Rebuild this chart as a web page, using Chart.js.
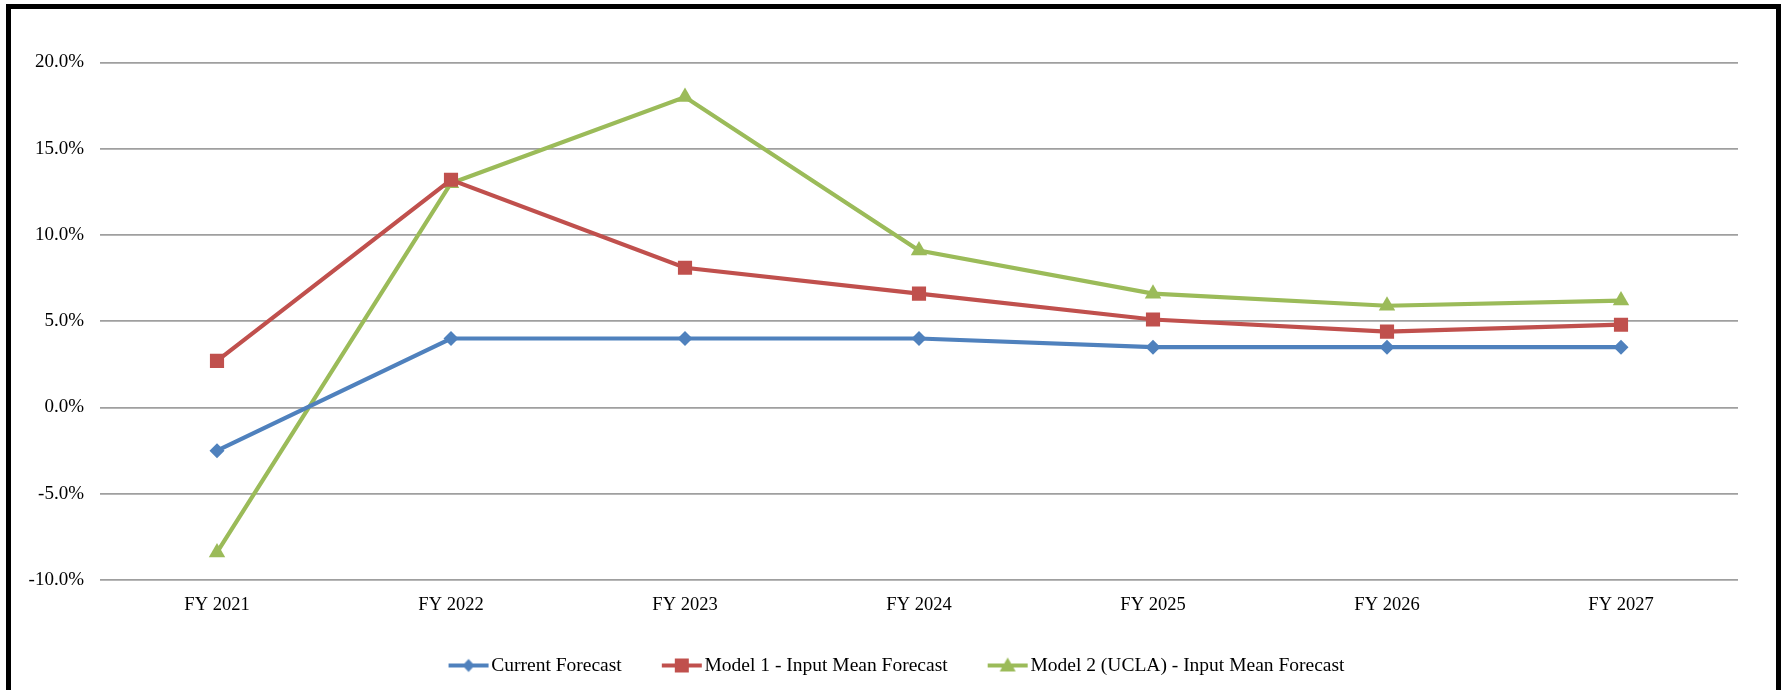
<!DOCTYPE html>
<html>
<head>
<meta charset="utf-8">
<script src="https://cdn.jsdelivr.net/npm/chart.js@4/dist/chart.umd.min.js"></script>
<style>
  html, body { margin: 0; padding: 0; background: #fff; }
  #wrap { position: relative; width: 1789px; height: 690px; overflow: hidden; }
  #frame {
    position: absolute; left: 6px; top: 4px; width: 1765px; height: 720px;
    border: 5px solid #000; border-bottom: none; pointer-events: none;
  }
</style>
</head>
<body>
<div id="wrap">
  <canvas id="forecastChart" width="1789" height="690"></canvas>
  <div id="frame"></div>
</div>
<script>
var labels = ["FY 2021", "FY 2022", "FY 2023", "FY 2024", "FY 2025", "FY 2026", "FY 2027"];
var currentForecast = [-2.5, 4.0, 4.0, 4.0, 3.5, 3.5, 3.5];
var model1Forecast = [2.7, 13.2, 8.1, 6.6, 5.1, 4.4, 4.8];
var model2Forecast = [-8.4, 13.0, 18.0, 9.1, 6.6, 5.9, 6.2];
var seriesNames = ["Current Forecast", "Model 1 - Input Mean Forecast", "Model 2 (UCLA) - Input Mean Forecast"];

var blue = "#4F81BD";
var red = "#C0504D";
var green = "#9BBB59";
var fontFamily = "'Liberation Serif', 'Times New Roman', serif";

// line+marker swatch for the legend; the line runs up to the label text
function swatch(color, shape) {
  var c = document.createElement("canvas");
  c.width = 60;
  c.height = 18;
  var g = c.getContext("2d");
  g.strokeStyle = color;
  g.fillStyle = color;
  g.lineWidth = 4;
  g.beginPath();
  g.moveTo(17, 9);
  g.lineTo(57, 9);
  g.stroke();
  g.beginPath();
  if (shape === "diamond") {
    g.moveTo(37, 2.5); g.lineTo(43, 9); g.lineTo(37, 15.5); g.lineTo(31, 9);
  } else if (shape === "square") {
    g.rect(30, 2, 14, 14);
  } else {
    g.moveTo(37, 1); g.lineTo(45, 15); g.lineTo(29, 15);
  }
  g.closePath();
  g.fill();
  return c;
}

// nudge the legend row a bit to the right of the canvas centre
var legendShift = {
  id: "legendShift",
  afterLayout: function (chart) {
    chart.legend.left += 24;
    chart.legend.right += 24;
  },
};

var ctx = document.getElementById("forecastChart").getContext("2d");
var myChart = new Chart(ctx, {
  type: "line",
  data: {
    labels: labels,
    datasets: [
      {
        label: seriesNames[0],
        data: currentForecast,
        borderColor: blue,
        backgroundColor: blue,
        borderWidth: 4.2,
        pointStyle: "rectRot",
        pointRadius: 7.5,
        pointBorderWidth: 0,
        legendSwatch: swatch(blue, "diamond"),
      },
      {
        label: seriesNames[1],
        data: model1Forecast,
        borderColor: red,
        backgroundColor: red,
        borderWidth: 4.2,
        pointStyle: "rect",
        pointRadius: 10,
        pointBorderWidth: 0,
        legendSwatch: swatch(red, "square"),
      },
      {
        label: seriesNames[2],
        data: model2Forecast,
        borderColor: green,
        backgroundColor: green,
        borderWidth: 4.2,
        pointStyle: "triangle",
        pointRadius: 9.5,
        pointBorderWidth: 0,
        legendSwatch: swatch(green, "triangle"),
      },
    ],
  },
  options: {
    responsive: false,
    animation: false,
    layout: {
      padding: { top: 62.5, right: 51, bottom: 4.75, left: 0 },
    },
    elements: {
      line: { tension: 0 },
    },
    scales: {
      y: {
        min: -10,
        max: 20,
        ticks: {
          stepSize: 5,
          color: "#000",
          padding: 16,
          font: { family: fontFamily, size: 19 },
          callback: function (v) {
            return v.toFixed(1) + "%";
          },
        },
        grid: { color: "#9f9f9f", lineWidth: 1.7, drawTicks: false },
        border: { display: false },
        afterFit: function (scale) {
          scale.width = 100;
        },
      },
      x: {
        offset: true,
        ticks: {
          color: "#000",
          padding: 14,
          font: { family: fontFamily, size: 18.5 },
        },
        grid: { display: false, drawTicks: false },
        border: { display: false },
        afterFit: function (scale) {
          scale.height = 42.75;
        },
      },
    },
    plugins: {
      tooltip: { enabled: false },
      legend: {
        position: "bottom",
        labels: {
          color: "#000",
          font: { family: fontFamily, size: 19.5 },
          usePointStyle: true,
          pointStyleWidth: 40,
          padding: 33,
          generateLabels: function (chart) {
            return chart.data.datasets.map(function (ds, i) {
              return {
                text: ds.label,
                pointStyle: ds.legendSwatch,
                fillStyle: ds.borderColor,
                strokeStyle: ds.borderColor,
                lineWidth: 0,
                datasetIndex: i,
                hidden: false,
              };
            });
          },
        },
      },
    },
  },
  plugins: [legendShift],
});
</script>
</body>
</html>
